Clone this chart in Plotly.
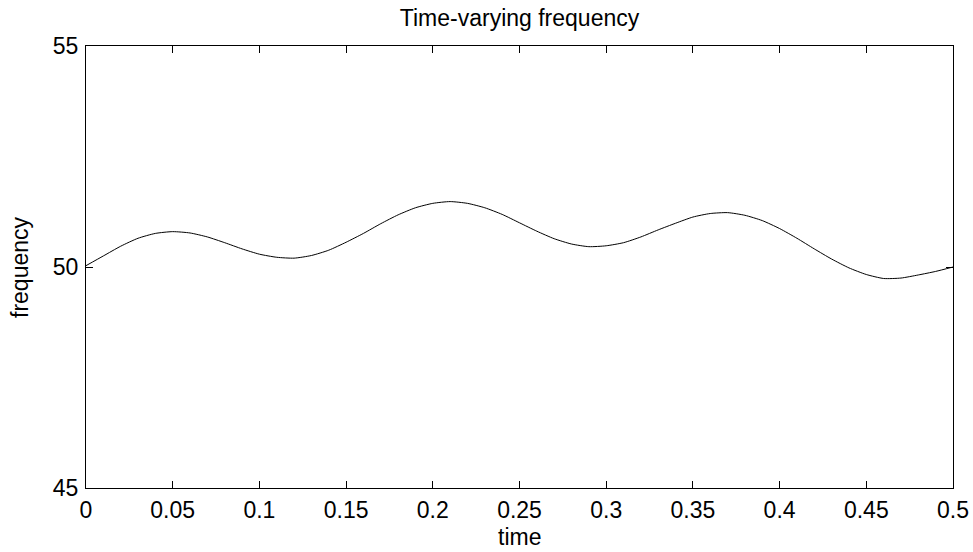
import plotly.graph_objects as go

# Data
time = [0.00, 0.01, 0.02, 0.03, 0.04, 0.05, 0.06, 0.07, 0.08, 0.09,
        0.10, 0.11, 0.12, 0.13, 0.14, 0.15, 0.16, 0.17, 0.18, 0.19,
        0.20, 0.21, 0.22, 0.23, 0.24, 0.25, 0.26, 0.27, 0.28, 0.29,
        0.30, 0.31, 0.32, 0.33, 0.34, 0.35, 0.36, 0.37, 0.38, 0.39,
        0.40, 0.41, 0.42, 0.43, 0.44, 0.45, 0.46, 0.47, 0.48, 0.49, 0.50]
frequency = [50.03, 50.25, 50.47, 50.65, 50.76, 50.80, 50.77, 50.68, 50.55, 50.41,
             50.29, 50.22, 50.20, 50.26, 50.38, 50.56, 50.76, 50.98, 51.18, 51.34,
             51.44, 51.48, 51.44, 51.34, 51.19, 51.00, 50.81, 50.64, 50.52, 50.46,
             50.48, 50.55, 50.68, 50.84, 50.99, 51.13, 51.21, 51.23, 51.17, 51.05,
             50.87, 50.65, 50.41, 50.18, 49.98, 49.83, 49.74, 49.75, 49.82, 49.90, 50.00]

x_ticks = [0, 0.05, 0.1, 0.15, 0.2, 0.25, 0.3, 0.35, 0.4, 0.45, 0.5]
x_tick_labels = ["0", "0.05", "0.1", "0.15", "0.2", "0.25", "0.3", "0.35", "0.4", "0.45", "0.5"]
y_ticks = [45, 50, 55]
y_tick_labels = ["45", "50", "55"]

FONT = "Liberation Sans, Arial, sans-serif"
FS = 23

fig = go.Figure()
fig.add_trace(go.Scatter(x=time, y=frequency, mode="lines",
                         line=dict(color="black", width=1, shape="spline", smoothing=0.6),
                         showlegend=False, hoverinfo="skip"))

axis_common = dict(showline=True, linecolor="black", linewidth=1, mirror="ticks",
                   ticks="inside", ticklen=7, tickcolor="black", tickwidth=1,
                   showgrid=False, zeroline=False, automargin=False,
                   tickfont=dict(family=FONT, size=FS, color="black"))

fig.update_layout(
    template="none",
    width=973, height=552,
    margin=dict(l=86, r=20, t=46, b=64, autoexpand=False),
    paper_bgcolor="white", plot_bgcolor="white",
    xaxis=dict(range=[0, 0.5], tickvals=x_ticks, ticktext=x_tick_labels,
               ticklabelstandoff=1, **axis_common),
    yaxis=dict(range=[45, 55], tickvals=y_ticks, ticktext=y_tick_labels,
               ticklabelstandoff=2, **axis_common),
    title=dict(text="Time-varying frequency", x=0.5, xref="paper", xanchor="center",
               y=1 - 18 / 552, yref="container", yanchor="middle",
               font=dict(family=FONT, size=FS, color="black")),
    annotations=[
        dict(text="time", xref="paper", yref="paper", x=0.5, y=-49 / 442,
             xanchor="center", yanchor="middle", showarrow=False,
             font=dict(family=FONT, size=FS, color="black")),
        dict(text="frequency", xref="paper", yref="paper", x=(20 - 86) / 867, y=0.5,
             xanchor="center", yanchor="middle", textangle=-90, showarrow=False,
             font=dict(family=FONT, size=FS, color="black")),
    ],
)

fig.write_html("out.html")
